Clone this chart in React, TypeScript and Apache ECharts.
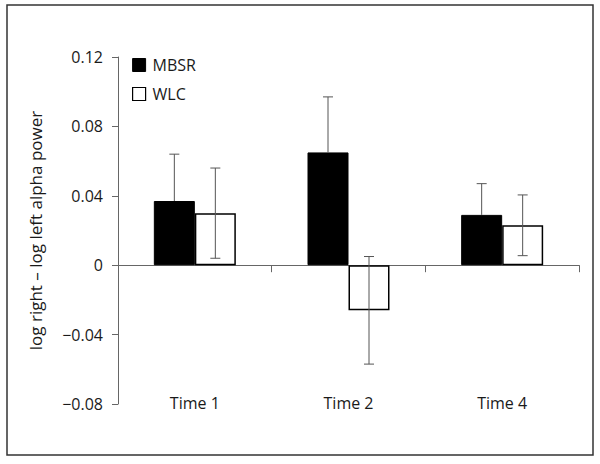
import React, { useEffect, useRef } from "react";
import * as echarts from "echarts";

const categories = ["Time 1", "Time 2", "Time 4"];
const mbsr = [0.037, 0.065, 0.029];
const wlc = [0.030, -0.026, 0.023];
const mbsrErr = [0.027, 0.032, 0.018];
const wlcErr = [0.026, 0.031, 0.0175];
const yTicks = { min: -0.08, max: 0.12, interval: 0.04 };

const FONT = "Open Sans";
const BAR_W = 41;

function fmt(v: number) {
  if (Math.abs(v) < 1e-9) return "0";
  return (v < 0 ? "\u2212" : "") + Math.abs(v).toFixed(2);
}

export default function App() {
  const ref = useRef<HTMLDivElement>(null);
  useEffect(() => {
    if (!ref.current) return;
    const chart = echarts.init(ref.current, null, { renderer: "svg" });

    const errItem = (offset: number, upperOnly: boolean) => (params: any, api: any) => {
      const idx = api.value(0);
      const val = api.value(1);
      const err = api.value(2);
      const base = api.coord([idx, val]);
      const top = api.coord([idx, val + err]);
      const bot = api.coord([idx, upperOnly ? val : val - err]);
      const x = base[0] + offset;
      const cap = 5;
      const style = { stroke: "#555", lineWidth: 1 };
      const children: any[] = [
        { type: "line", shape: { x1: x, y1: top[1], x2: x, y2: bot[1] }, style },
        { type: "line", shape: { x1: x - cap, y1: top[1], x2: x + cap, y2: top[1] }, style },
      ];
      if (!upperOnly) {
        children.push({ type: "line", shape: { x1: x - cap, y1: bot[1], x2: x + cap, y2: bot[1] }, style });
      }
      return { type: "group", children };
    };

    chart.setOption({
      animation: false,
      textStyle: { fontFamily: FONT },
      grid: { left: 118, right: 21, top: 57, bottom: 60, containLabel: false },
      legend: {
        orient: "vertical",
        left: 132,
        top: 57,
        padding: 0,
        itemWidth: 13,
        itemHeight: 13,
        itemGap: 13,
        icon: "rect",
        textStyle: { fontFamily: FONT, fontSize: 16, color: "#1a1a1a", padding: [0, 0, 0, 2] },
        data: [
          { name: "MBSR", itemStyle: { color: "#000", borderColor: "#000", borderWidth: 1 } },
          { name: "WLC", itemStyle: { color: "#fff", borderColor: "#000", borderWidth: 1.2 } },
        ],
      },
      graphic: [
        {
          type: "rect",
          shape: { x: 7, y: 5, width: 586, height: 450 },
          style: { fill: "none", stroke: "#333", lineWidth: 1.5 },
          silent: true,
        },
      ],
      xAxis: [
        {
          type: "category",
          data: categories,
          position: "bottom",
          axisLine: { onZero: true, lineStyle: { color: "#666", width: 1 } },
          axisTick: { show: true, length: 7, lineStyle: { color: "#666" } },
          axisLabel: { show: false },
        },
        {
          type: "category",
          data: categories,
          position: "bottom",
          axisLine: { show: false, onZero: false },
          axisTick: { show: false },
          axisLabel: { show: true, fontFamily: FONT, fontSize: 16, color: "#1a1a1a", margin: -9 },
        },
      ],
      yAxis: {
        type: "value",
        min: yTicks.min,
        max: yTicks.max,
        interval: yTicks.interval,
        name: "log right \u2013 log left alpha power",
        nameLocation: "middle",
        nameGap: 74,
        nameTextStyle: { fontFamily: FONT, fontSize: 17, color: "#1a1a1a" },
        splitLine: { show: false },
        axisLine: { show: true, onZero: false, lineStyle: { color: "#666", width: 1 } },
        axisTick: { show: true, length: 6, lineStyle: { color: "#666" } },
        axisLabel: { formatter: fmt, fontFamily: FONT, fontSize: 16, color: "#1a1a1a", margin: 15 },
      },
      series: [
        {
          name: "MBSR",
          type: "bar",
          xAxisIndex: 0,
          data: mbsr,
          barWidth: BAR_W,
          barGap: "0%",
          itemStyle: { color: "#000", borderColor: "#000", borderWidth: 1 },
          z: 2,
        },
        {
          name: "WLC",
          type: "bar",
          xAxisIndex: 0,
          data: wlc,
          barWidth: BAR_W,
          barGap: "0%",
          itemStyle: { color: "#fff", borderColor: "#000", borderWidth: 1.5 },
          z: 2,
        },
        {
          type: "custom",
          xAxisIndex: 0,
          renderItem: errItem(-BAR_W / 2, true),
          data: mbsr.map((v, i) => [i, v, mbsrErr[i]]),
          z: 5,
          silent: true,
        },
        {
          type: "custom",
          xAxisIndex: 0,
          renderItem: errItem(BAR_W / 2, false),
          data: wlc.map((v, i) => [i, v, wlcErr[i]]),
          z: 5,
          silent: true,
        },
      ],
    });
    return () => chart.dispose();
  }, []);
  return (
    <div
      ref={ref}
      style={{ position: "absolute", left: 0, top: 0, width: 600, height: 464, background: "#fff" }}
    />
  );
}
